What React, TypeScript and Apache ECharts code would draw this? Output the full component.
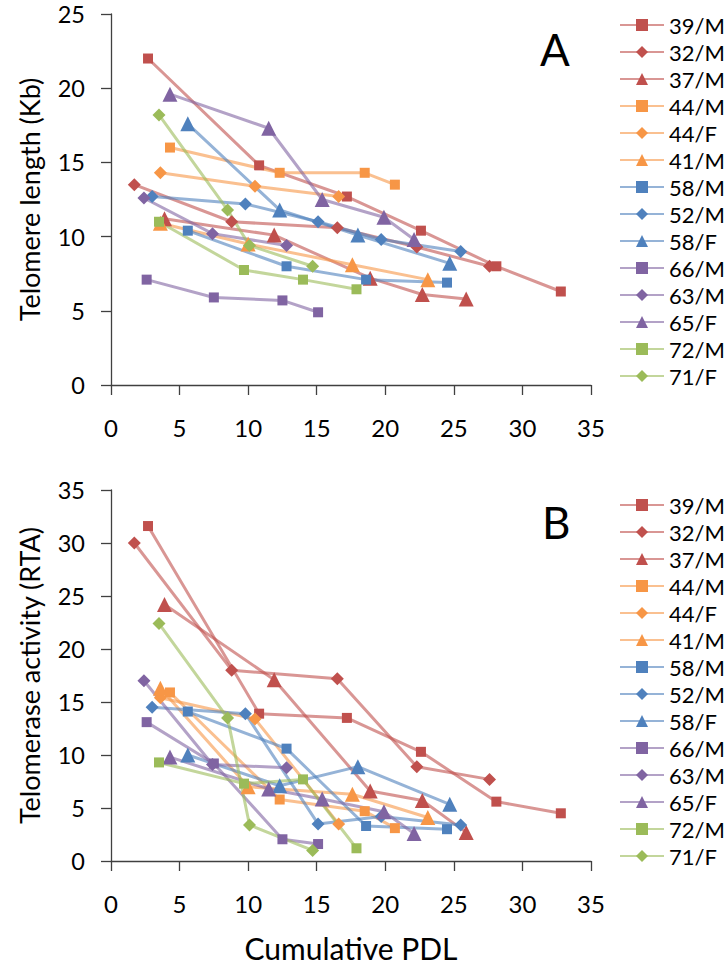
import React, { useEffect, useRef } from 'react';
import * as echarts from 'echarts';

const donors = ['39/M', '32/M', '37/M', '44/M', '44/F', '41/M', '58/M', '52/M', '58/F', '66/M', '63/M', '65/F', '72/M', '71/F'];

// cumulative PDL of each sample, per donor
const pdl: number[][] = [
  [2.7, 10.8, 17.2, 22.6, 28.1, 32.8],
  [1.7, 8.8, 16.5, 22.3, 27.6],
  [3.9, 11.9, 18.9, 22.7, 25.9],
  [4.3, 12.3, 18.5, 20.7],
  [3.6, 10.5, 16.6],
  [3.6, 10.0, 17.6, 23.1],
  [5.6, 12.8, 18.6, 24.5],
  [3.0, 9.8, 15.1, 19.7, 25.5],
  [5.6, 12.3, 18.0, 24.7],
  [2.6, 7.5, 12.5, 15.1],
  [2.4, 7.4, 12.8],
  [4.3, 11.5, 15.4, 19.9, 22.1],
  [3.5, 9.7, 14.0, 17.9],
  [3.5, 8.5, 10.1, 14.7],
];

// panel A: telomere length (Kb)
const telomereLength: number[][] = [
  [22.0, 14.8, 12.7, 10.4, 8.0, 6.3],
  [13.5, 11.0, 10.6, 9.3, 8.0],
  [11.2, 10.1, 7.2, 6.1, 5.8],
  [16.0, 14.3, 14.3, 13.5],
  [14.3, 13.4, 12.7],
  [10.9, 9.5, 8.1, 7.1],
  [10.4, 8.0, 7.1, 6.9],
  [12.7, 12.2, 11.0, 9.8, 9.0],
  [17.6, 11.8, 10.1, 8.2],
  [7.1, 5.9, 5.7, 4.9],
  [12.6, 10.2, 9.4],
  [19.6, 17.3, 12.5, 11.3, 9.8],
  [11.0, 7.75, 7.1, 6.45],
  [18.2, 11.8, 9.4, 8.0],
];

// panel B: telomerase activity (RTA)
const telomeraseActivity: number[][] = [
  [31.6, 13.9, 13.5, 10.3, 5.6, 4.5],
  [30.0, 18.0, 17.2, 8.9, 7.7],
  [24.2, 17.1, 6.6, 5.7, 2.7],
  [15.9, 5.8, 4.7, 3.1],
  [15.4, 13.4, 3.5],
  [16.3, 7.0, 6.3, 4.1],
  [14.1, 10.6, 3.3, 3.0],
  [14.5, 13.9, 3.5, 4.2, 3.4],
  [10.0, 7.1, 8.9, 5.35],
  [13.1, 9.2, 2.05, 1.6],
  [17.0, 9.1, 8.8],
  [9.8, 6.8, 5.85, 4.65, 2.6],
  [9.3, 7.3, 7.7, 1.2],
  [22.4, 13.5, 3.4, 1.0],
];

const xTicks = [0, 5, 10, 15, 20, 25, 30, 35];
const yTicksA = [0, 5, 10, 15, 20, 25];
const yTicksB = [0, 5, 10, 15, 20, 25, 30, 35];

const palette = ['#C0504D', '#F79646', '#4F81BD', '#8064A2', '#9BBB59'];
const shapes = ['rect', 'diamond', 'triangle'];
const shapeSize: Record<string, number> = { rect: 10, diamond: 13, triangle: 15 };

const FONT = 'Lato, "Open Sans", sans-serif';

export default function App() {
  const ref = useRef<HTMLDivElement>(null);
  useEffect(() => {
    if (!ref.current) return;
    const chart = echarts.init(ref.current, undefined, { renderer: 'svg' });

    const makeSeries = (values: number[][], panel: number) =>
      donors.map((name, i) => {
        const color = palette[Math.floor(i / 3)];
        const shape = shapes[i % 3];
        return {
          name,
          type: 'line',
          xAxisIndex: panel,
          yAxisIndex: panel,
          data: pdl[i].map((x, j) => [x, values[i][j]]),
          symbol: shape,
          symbolSize: shapeSize[shape],
          itemStyle: { color },
          lineStyle: { color, width: 3, opacity: 0.6 },
          emphasis: { disabled: true },
        };
      });

    const axisCommon = {
      axisLine: { show: true, lineStyle: { color: '#404040', width: 1.3 } },
      axisTick: { show: true, length: 10, inside: false, lineStyle: { color: '#404040', width: 1.3 } },
      splitLine: { show: false },
    };

    const xAxis = (gridIndex: number, withName: boolean) => ({
      type: 'value',
      gridIndex,
      min: xTicks[0],
      max: xTicks[xTicks.length - 1],
      interval: 5,
      ...axisCommon,
      axisLabel: { fontSize: 24, color: '#000', fontFamily: FONT, margin: 30 },
      name: withName ? 'Cumulative PDL' : '',
      nameLocation: 'middle',
      nameGap: 72,
      nameTextStyle: { fontSize: 30, color: '#000', fontFamily: FONT },
    });

    const yAxis = (gridIndex: number, ticks: number[], name: string) => ({
      type: 'value',
      gridIndex,
      min: ticks[0],
      max: ticks[ticks.length - 1],
      interval: 5,
      ...axisCommon,
      axisLabel: { fontSize: 23.5, color: '#000', fontFamily: FONT, margin: 26 },
      name,
      nameLocation: 'middle',
      nameGap: 68,
      nameTextStyle: { fontSize: 27, color: '#000', fontFamily: FONT },
    });

    const legend = (top: number) => ({
      orient: 'vertical',
      left: 614,
      top,
      itemWidth: 44,
      itemHeight: 15,
      itemGap: 5,
      textStyle: { fontSize: 22, lineHeight: 22, color: '#000', fontFamily: FONT },
      data: donors,
      selectedMode: false,
    });

    chart.setOption({
      animation: false,
      backgroundColor: '#fff',
      textStyle: { fontFamily: FONT },
      grid: [
        { left: 111, top: 14, width: 480, height: 371 },
        { left: 111, top: 490, width: 480, height: 371 },
      ],
      xAxis: [xAxis(0, false), xAxis(1, true)],
      yAxis: [yAxis(0, yTicksA, 'Telomere length (Kb)'), yAxis(1, yTicksB, 'Telomerase activity (RTA)')],
      legend: [legend(9), legend(489)],
      graphic: [
        { type: 'text', left: 540, top: 27, style: { text: 'A', fontSize: 44, fill: '#000', fontFamily: FONT } },
        { type: 'text', left: 542, top: 500, style: { text: 'B', fontSize: 44, fill: '#000', fontFamily: FONT } },
      ],
      series: [...makeSeries(telomereLength, 0), ...makeSeries(telomeraseActivity, 1)],
    });
    return () => chart.dispose();
  }, []);
  return <div ref={ref} style={{ position: 'absolute', left: 0, top: 0, width: 726, height: 966 }} />;
}
